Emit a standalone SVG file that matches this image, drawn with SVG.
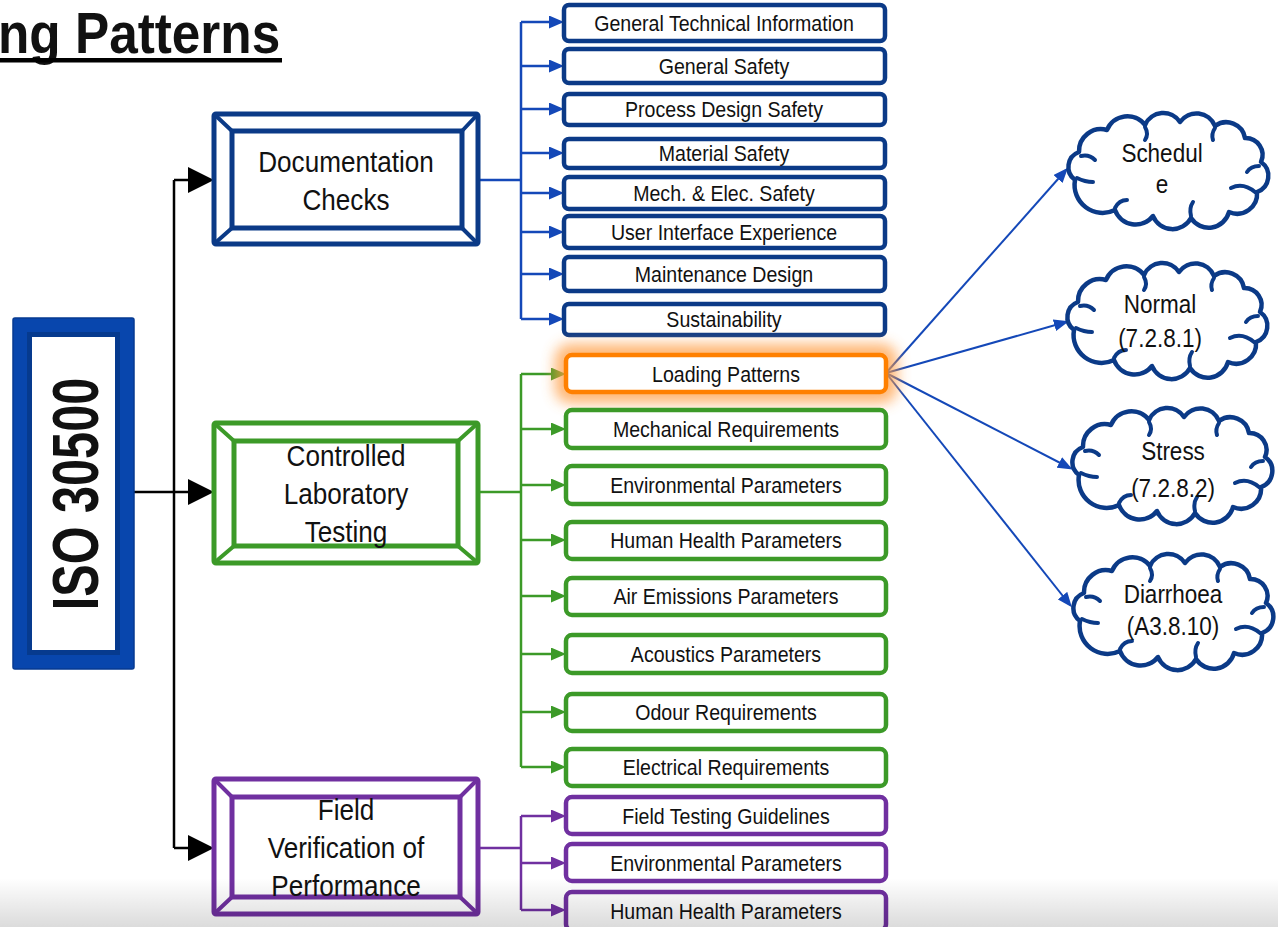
<svg xmlns="http://www.w3.org/2000/svg" xmlns:xlink="http://www.w3.org/1999/xlink" width="1278" height="927" viewBox="0 0 1278 927">
  <style>
    .t { font-family: "Liberation Sans", Arial, sans-serif; fill: #111; }
    .sm { font-size: 22px; }
    .bg { font-size: 30px; }
    .cl { font-size: 25px; }
    .frame { fill: #fff; stroke-width: 5; stroke-linejoin: round; }
    .diag { stroke-width: 4; }
    .box { fill: #fff; stroke-width: 4.5; }
    .navy { stroke: #0b3a87; }
    .grn { stroke: #3c9a28; }
    .pur { stroke: #7030a0; }
    .blk { stroke: #000; fill: none; stroke-width: 2.5; }
    .lblue { stroke: #1448b8; fill: none; stroke-width: 2.5; }
    .lgrn { stroke: #3c9a28; fill: none; stroke-width: 2.5; }
    .lpur { stroke: #7030a0; fill: none; stroke-width: 2.5; }
    .lcl { stroke: #1448b8; fill: none; stroke-width: 2; }
  </style>
  <defs>
    <marker id="ahBlack" markerUnits="userSpaceOnUse" markerWidth="26" markerHeight="28" viewBox="0 0 26 28" refX="22" refY="14" orient="auto">
      <path d="M0,1 L26,14 L0,27 Z" fill="#000"/>
    </marker>
    <marker id="ahBlue" markerUnits="userSpaceOnUse" markerWidth="15" markerHeight="13" viewBox="0 0 15 13" refX="11" refY="6.5" orient="auto">
      <path d="M0,0 L15,6.5 L0,13 Z" fill="#1448b8"/>
    </marker>
    <marker id="ahGreen" markerUnits="userSpaceOnUse" markerWidth="15" markerHeight="13" viewBox="0 0 15 13" refX="11" refY="6.5" orient="auto">
      <path d="M0,0 L15,6.5 L0,13 Z" fill="#3c9a28"/>
    </marker>
    <marker id="ahPurple" markerUnits="userSpaceOnUse" markerWidth="15" markerHeight="13" viewBox="0 0 15 13" refX="11" refY="6.5" orient="auto">
      <path d="M0,0 L15,6.5 L0,13 Z" fill="#7030a0"/>
    </marker>
    <marker id="ahCloud" markerUnits="userSpaceOnUse" markerWidth="15" markerHeight="12" viewBox="0 0 15 12" refX="12" refY="6" orient="auto">
      <path d="M0,0 L15,6 L0,12 Z" fill="#1448b8"/>
    </marker>
    <filter id="glow" x="-20%" y="-100%" width="140%" height="300%">
      <feGaussianBlur stdDeviation="7"/>
    </filter>
    <linearGradient id="haze" x1="0" y1="0" x2="0" y2="1">
      <stop offset="0" stop-color="#000" stop-opacity="0"/>
      <stop offset="1" stop-color="#000" stop-opacity="0.14"/>
    </linearGradient>
    <!-- cloud outline with its inner curls, local box ~0..206 x 0..117 -->
    <g id="cloud">
      <path d="M10,68 A16,16 0 0 1 14,40 A22,22 0 0 1 42,18 A22,22 0 0 1 80,13 A20,20 0 0 1 115,10 A20,20 0 0 1 150,14 A19,19 0 0 1 180,26 A17,17 0 0 1 196,50 A17,17 0 0 1 192,80 A20,20 0 0 1 164,100 A21,21 0 0 1 126,106 A21,21 0 0 1 88,104 A22,22 0 0 1 50,98 A28,28 0 0 1 10,68 Z" fill="#fff" stroke="#0b3a87" stroke-width="4.5" stroke-linejoin="round"/>
      <g fill="none" stroke="#0b3a87" stroke-width="4" stroke-linecap="round">
        <path d="M16,44 Q24,42 30,48"/>
        <path d="M80,15 Q84,22 80,28"/>
        <path d="M150,16 Q146,22 148,28"/>
        <path d="M194,54 Q186,54 182,60"/>
        <path d="M190,80 Q178,70 166,76"/>
        <path d="M126,104 Q124,96 128,90"/>
        <path d="M50,96 Q54,88 62,88"/>
        <path d="M12,66 Q20,70 28,70"/>
      </g>
    </g>
  </defs>

  <rect width="1278" height="927" fill="#fff"/>

  <!-- heading -->
  <g id="title">
    <text class="t" transform="translate(-2,53) scale(0.9,1)" font-size="57" font-weight="bold" fill="#000">ng Patterns</text>
    <rect x="0" y="58" width="282" height="4.5" fill="#000"/>
  </g>

  <!-- connectors -->
  <g id="connectors">
    <!-- root trunk -->
    <path class="blk" d="M134,492 H210"  marker-end="url(#ahBlack)"/>
    <path class="blk" d="M174,180 V848"/>
    <path class="blk" d="M174,180 H210" marker-end="url(#ahBlack)"/>
    <path class="blk" d="M174,848 H210" marker-end="url(#ahBlack)"/>

    <!-- documentation branches -->
    <path class="lblue" d="M478,180 H521 M521,22 V319"/>
    <path class="lblue" d="M521,22 H560" marker-end="url(#ahBlue)"/>
    <path class="lblue" d="M521,66 H560" marker-end="url(#ahBlue)"/>
    <path class="lblue" d="M521,109 H560" marker-end="url(#ahBlue)"/>
    <path class="lblue" d="M521,153 H560" marker-end="url(#ahBlue)"/>
    <path class="lblue" d="M521,193 H560" marker-end="url(#ahBlue)"/>
    <path class="lblue" d="M521,232 H560" marker-end="url(#ahBlue)"/>
    <path class="lblue" d="M521,274 H560" marker-end="url(#ahBlue)"/>
    <path class="lblue" d="M521,319 H560" marker-end="url(#ahBlue)"/>

    <!-- laboratory branches -->
    <path class="lgrn" d="M478,492 H521 M521,374 V767"/>
    <path class="lgrn" d="M521,374 H562" marker-end="url(#ahGreen)"/>
    <path class="lgrn" d="M521,429 H562" marker-end="url(#ahGreen)"/>
    <path class="lgrn" d="M521,485 H562" marker-end="url(#ahGreen)"/>
    <path class="lgrn" d="M521,540 H562" marker-end="url(#ahGreen)"/>
    <path class="lgrn" d="M521,596 H562" marker-end="url(#ahGreen)"/>
    <path class="lgrn" d="M521,654 H562" marker-end="url(#ahGreen)"/>
    <path class="lgrn" d="M521,712 H562" marker-end="url(#ahGreen)"/>
    <path class="lgrn" d="M521,767 H562" marker-end="url(#ahGreen)"/>

    <!-- field branches -->
    <path class="lpur" d="M478,848 H521 M521,816 V910"/>
    <path class="lpur" d="M521,816 H562" marker-end="url(#ahPurple)"/>
    <path class="lpur" d="M521,863 H562" marker-end="url(#ahPurple)"/>
    <path class="lpur" d="M521,910 H562" marker-end="url(#ahPurple)"/>

    <!-- loading patterns to the profiles -->
    <path class="lcl" d="M886,373 L1066,170" marker-end="url(#ahCloud)"/>
    <path class="lcl" d="M886,373 L1066,322" marker-end="url(#ahCloud)"/>
    <path class="lcl" d="M886,373 L1070,468" marker-end="url(#ahCloud)"/>
    <path class="lcl" d="M886,373 L1070,605" marker-end="url(#ahCloud)"/>
  </g>

  <!-- root -->
  <g id="iso30500">
    <rect x="13" y="318" width="121" height="351" rx="2" fill="#0846ad" stroke="#063a91" stroke-width="1.5"/>
    <rect x="27" y="332" width="93" height="323" fill="#063a8e"/>
    <rect x="32" y="337" width="83" height="313" fill="#fff"/>
    <text class="t" transform="translate(98,494) rotate(-90) scale(0.76,1)" text-anchor="middle" font-size="64" font-weight="bold" fill="#000">ISO 30500</text>
  </g>

  <!-- category frames -->
  <g id="documentation">
    <rect class="frame navy" x="214" y="114" width="264" height="130" rx="2"/>
    <rect class="frame navy" x="232" y="131" width="230" height="97"/>
    <path class="diag navy" d="M214,114 L232,131 M478,114 L462,131 M214,244 L232,228 M478,244 L462,228"/>
    <text class="t bg" transform="translate(346,172) scale(0.87,1)" text-anchor="middle">Documentation</text>
    <text class="t bg" transform="translate(346,210) scale(0.87,1)" text-anchor="middle">Checks</text>
  </g>

  <g id="laboratory">
    <rect class="frame grn" x="214" y="423" width="264" height="140" rx="2"/>
    <rect class="frame grn" x="234" y="441" width="224" height="105"/>
    <path class="diag grn" d="M214,423 L234,441 M478,423 L458,441 M214,563 L234,546 M478,563 L458,546"/>
    <text class="t bg" transform="translate(346,466) scale(0.87,1)" text-anchor="middle">Controlled</text>
    <text class="t bg" transform="translate(346,504) scale(0.87,1)" text-anchor="middle">Laboratory</text>
    <text class="t bg" transform="translate(346,542) scale(0.87,1)" text-anchor="middle">Testing</text>
  </g>

  <g id="field">
    <rect class="frame pur" x="214" y="779" width="264" height="135" rx="2"/>
    <rect class="frame pur" x="232" y="797" width="228" height="100"/>
    <path class="diag pur" d="M214,779 L232,797 M478,779 L460,797 M214,914 L232,897 M478,914 L460,897"/>
    <text class="t bg" transform="translate(346,820) scale(0.87,1)" text-anchor="middle">Field</text>
    <text class="t bg" transform="translate(346,858) scale(0.87,1)" text-anchor="middle">Verification of</text>
    <text class="t bg" transform="translate(346,896) scale(0.87,1)" text-anchor="middle">Performance</text>
  </g>

  <!-- documentation items -->
  <g id="doc-general-technical">
    <rect class="box navy" x="564" y="5" width="321" height="36" rx="5"/>
    <text class="t sm" transform="translate(724,31) scale(0.89,1)" text-anchor="middle">General Technical Information</text>
  </g>
  <g id="doc-general-safety">
    <rect class="box navy" x="564" y="49" width="321" height="34" rx="5"/>
    <text class="t sm" transform="translate(724,74) scale(0.89,1)" text-anchor="middle">General Safety</text>
  </g>
  <g id="doc-process-design">
    <rect class="box navy" x="564" y="94" width="321" height="31" rx="5"/>
    <text class="t sm" transform="translate(724,117) scale(0.89,1)" text-anchor="middle">Process Design Safety</text>
  </g>
  <g id="doc-material">
    <rect class="box navy" x="564" y="139" width="321" height="29" rx="5"/>
    <text class="t sm" transform="translate(724,161) scale(0.89,1)" text-anchor="middle">Material Safety</text>
  </g>
  <g id="doc-mech-elec">
    <rect class="box navy" x="564" y="177" width="321" height="32" rx="5"/>
    <text class="t sm" transform="translate(724,201) scale(0.89,1)" text-anchor="middle">Mech. &amp; Elec. Safety</text>
  </g>
  <g id="doc-user-interface">
    <rect class="box navy" x="564" y="216" width="321" height="32" rx="5"/>
    <text class="t sm" transform="translate(724,240) scale(0.89,1)" text-anchor="middle">User Interface Experience</text>
  </g>
  <g id="doc-maintenance">
    <rect class="box navy" x="564" y="257" width="321" height="34" rx="5"/>
    <text class="t sm" transform="translate(724,282) scale(0.89,1)" text-anchor="middle">Maintenance Design</text>
  </g>
  <g id="doc-sustainability">
    <rect class="box navy" x="564" y="304" width="321" height="31" rx="5"/>
    <text class="t sm" transform="translate(724,327) scale(0.89,1)" text-anchor="middle">Sustainability</text>
  </g>

  <!-- laboratory items -->
  <g id="lab-loading-patterns">
    <rect x="560" y="349" width="332" height="49" rx="10" fill="#ffa24a" stroke="#ff9a3c" stroke-width="10" opacity="0.75" filter="url(#glow)"/>
    <rect class="box" x="566" y="355" width="320" height="37" rx="6" stroke="#ff8000"/>
    <text class="t sm" transform="translate(726,382) scale(0.89,1)" text-anchor="middle">Loading Patterns</text>
  </g>
  <g id="lab-mechanical">
    <rect class="box grn" x="566" y="410" width="320" height="38" rx="6"/>
    <text class="t sm" transform="translate(726,437) scale(0.89,1)" text-anchor="middle">Mechanical Requirements</text>
  </g>
  <g id="lab-environmental">
    <rect class="box grn" x="566" y="466" width="320" height="38" rx="6"/>
    <text class="t sm" transform="translate(726,493) scale(0.89,1)" text-anchor="middle">Environmental Parameters</text>
  </g>
  <g id="lab-human-health">
    <rect class="box grn" x="566" y="522" width="320" height="37" rx="6"/>
    <text class="t sm" transform="translate(726,548) scale(0.89,1)" text-anchor="middle">Human Health Parameters</text>
  </g>
  <g id="lab-air-emissions">
    <rect class="box grn" x="566" y="578" width="320" height="37" rx="6"/>
    <text class="t sm" transform="translate(726,604) scale(0.89,1)" text-anchor="middle">Air Emissions Parameters</text>
  </g>
  <g id="lab-acoustics">
    <rect class="box grn" x="566" y="635" width="320" height="38" rx="6"/>
    <text class="t sm" transform="translate(726,662) scale(0.89,1)" text-anchor="middle">Acoustics Parameters</text>
  </g>
  <g id="lab-odour">
    <rect class="box grn" x="566" y="694" width="320" height="37" rx="6"/>
    <text class="t sm" transform="translate(726,720) scale(0.89,1)" text-anchor="middle">Odour Requirements</text>
  </g>
  <g id="lab-electrical">
    <rect class="box grn" x="566" y="749" width="320" height="37" rx="6"/>
    <text class="t sm" transform="translate(726,775) scale(0.89,1)" text-anchor="middle">Electrical Requirements</text>
  </g>

  <!-- field items -->
  <g id="field-guidelines">
    <rect class="box pur" x="566" y="797" width="320" height="37" rx="6"/>
    <text class="t sm" transform="translate(726,824) scale(0.89,1)" text-anchor="middle">Field Testing Guidelines</text>
  </g>
  <g id="field-environmental">
    <rect class="box pur" x="566" y="844" width="320" height="37" rx="6"/>
    <text class="t sm" transform="translate(726,871) scale(0.89,1)" text-anchor="middle">Environmental Parameters</text>
  </g>
  <g id="field-human-health">
    <rect class="box pur" x="566" y="892" width="320" height="38" rx="6"/>
    <text class="t sm" transform="translate(726,919) scale(0.89,1)" text-anchor="middle">Human Health Parameters</text>
  </g>

  <!-- loading profiles -->
  <g id="cloud-schedule">
    <use xlink:href="#cloud" transform="translate(1065,112)"/>
    <text class="t cl" transform="translate(1162,162) scale(0.9,1)" text-anchor="middle">Schedul</text>
    <text class="t cl" transform="translate(1162,193) scale(0.9,1)" text-anchor="middle">e</text>
  </g>
  <g id="cloud-normal">
    <use xlink:href="#cloud" transform="translate(1064,262)"/>
    <text class="t cl" transform="translate(1160,313) scale(0.9,1)" text-anchor="middle">Normal</text>
    <text class="t cl" transform="translate(1160,347) scale(0.9,1)" text-anchor="middle">(7.2.8.1)</text>
  </g>
  <g id="cloud-stress">
    <use xlink:href="#cloud" transform="translate(1069,407)"/>
    <text class="t cl" transform="translate(1173,460) scale(0.9,1)" text-anchor="middle">Stress</text>
    <text class="t cl" transform="translate(1173,497) scale(0.9,1)" text-anchor="middle">(7.2.8.2)</text>
  </g>
  <g id="cloud-diarrhoea">
    <use xlink:href="#cloud" transform="translate(1070,553)"/>
    <text class="t cl" transform="translate(1173,603) scale(0.9,1)" text-anchor="middle">Diarrhoea</text>
    <text class="t cl" transform="translate(1173,635) scale(0.9,1)" text-anchor="middle">(A3.8.10)</text>
  </g>

  <!-- bottom shading band -->
  <rect x="0" y="878" width="1278" height="49" fill="url(#haze)"/>
</svg>
